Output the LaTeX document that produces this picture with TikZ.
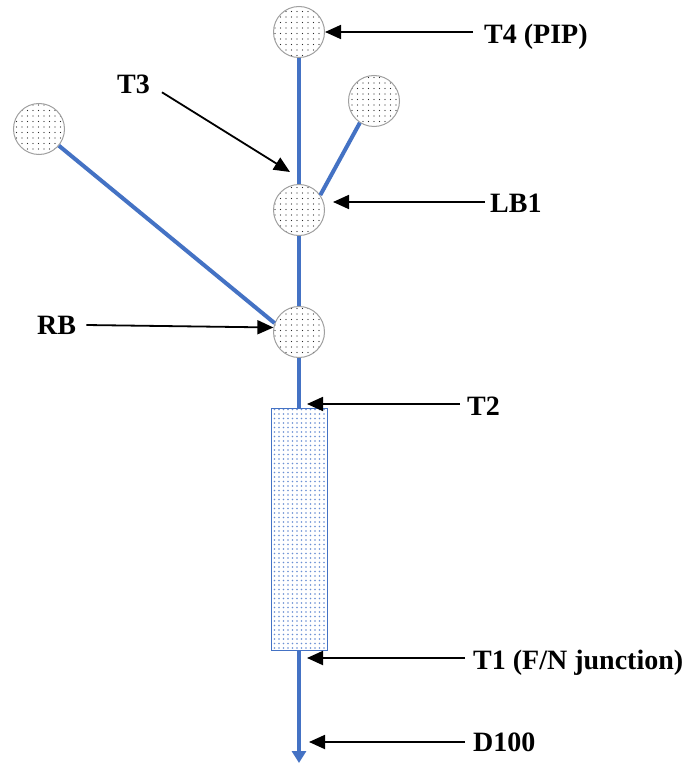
\documentclass[tikz,border=0pt]{standalone}
\usepackage{fontspec}
\setmainfont{Liberation Serif}
\usetikzlibrary{arrows.meta, patterns.meta}
\definecolor{stemblue}{HTML}{4472C4}
\definecolor{dotblue}{HTML}{6A8FD4}
\definecolor{rimgray}{HTML}{A0A0A0}

\tikzset{
  stem/.style={stemblue, line width=4pt},
  bud/.style={circle, draw=rimgray, line width=1pt, minimum size=51pt, inner sep=0pt,
    pattern={Dots[distance=5.5pt, radius=0.7pt]}, pattern color=black!85},
  tag/.style={font=\fontsize{28}{30}\selectfont\bfseries, inner sep=0pt, anchor=base west},
  pointer/.style={black, line width=1.8pt, -{Triangle[length=16pt, width=14pt]}},
}

\begin{document}
\begin{tikzpicture}[x=1pt, y=-1pt]

% Canvas
\fill[white] (0,0) rectangle (690,765);
\useasboundingbox (0,0) rectangle (690,765);

% Buds
\node[bud] (pip) at (299,32) {};
\node[bud] (lbtip) at (374,101) {};
\node[bud] (lbone) at (299,210) {};
\node[bud] (rb) at (299,332) {};
\node[bud] (rbtip) at (39,129) {};

% Shaded block on the stem
\node[draw=stemblue, line width=1pt, minimum width=56pt, minimum height=242pt,
  pattern={Dots[distance=4.5pt, radius=0.8pt]}, pattern color=dotblue] (block) at (299,529) {};

\coordinate (tipend) at (299,763);

% --- Stem and branches ---
\draw[stem] (pip) -- (lbone);
\draw[stem] (lbone) -- (rb);
\draw[stem] (rb) -- (block);
\draw[stem, -{Triangle[length=12pt, width=14pt]}] (block) -- (tipend);
\draw[stem] (lbone.35) -- (lbtip.237);
\draw[stem] (rbtip.-40) -- (rb.160);

% --- Labels ---
\node[tag] (tfour) at (484,44) {T4 (PIP)};
\node[tag] (tthree) at (117,94) {T3};
\node[tag] (lbtag) at (490,212) {LB1};
\node[tag] (rbtag) at (37,334) {RB};
\node[tag] (ttwo) at (467,415) {T2};
\node[tag] (tone) at (473,669) {T1 (F/N junction)};
\node[tag] (dtag) at (473,751) {D100};

% Free ends of the pointers
\coordinate (tthreeend) at (290,172);
\coordinate (lbend) at (333,202);
\coordinate (ttwoend) at (307,404);
\coordinate (toneend) at (307,658);
\coordinate (dend) at (309,742);

% --- Pointers ---
\draw[pointer, shorten <=11pt] (tfour.west |- pip.east) -- (pip.east);
\draw[pointer, shorten <=14pt] (tthree.east) -- (tthreeend);
\draw[pointer, shorten <=5pt] (lbtag.west |- lbend) -- (lbend);
\draw[pointer, shorten <=10pt] (rbtag.east) -- (rb.170);
\draw[pointer, shorten <=7pt] (ttwo.west |- ttwoend) -- (ttwoend);
\draw[pointer, shorten <=8pt] (tone.west |- toneend) -- (toneend);
\draw[pointer, shorten <=8pt] (dtag.west |- dend) -- (dend);

\end{tikzpicture}
\end{document}
